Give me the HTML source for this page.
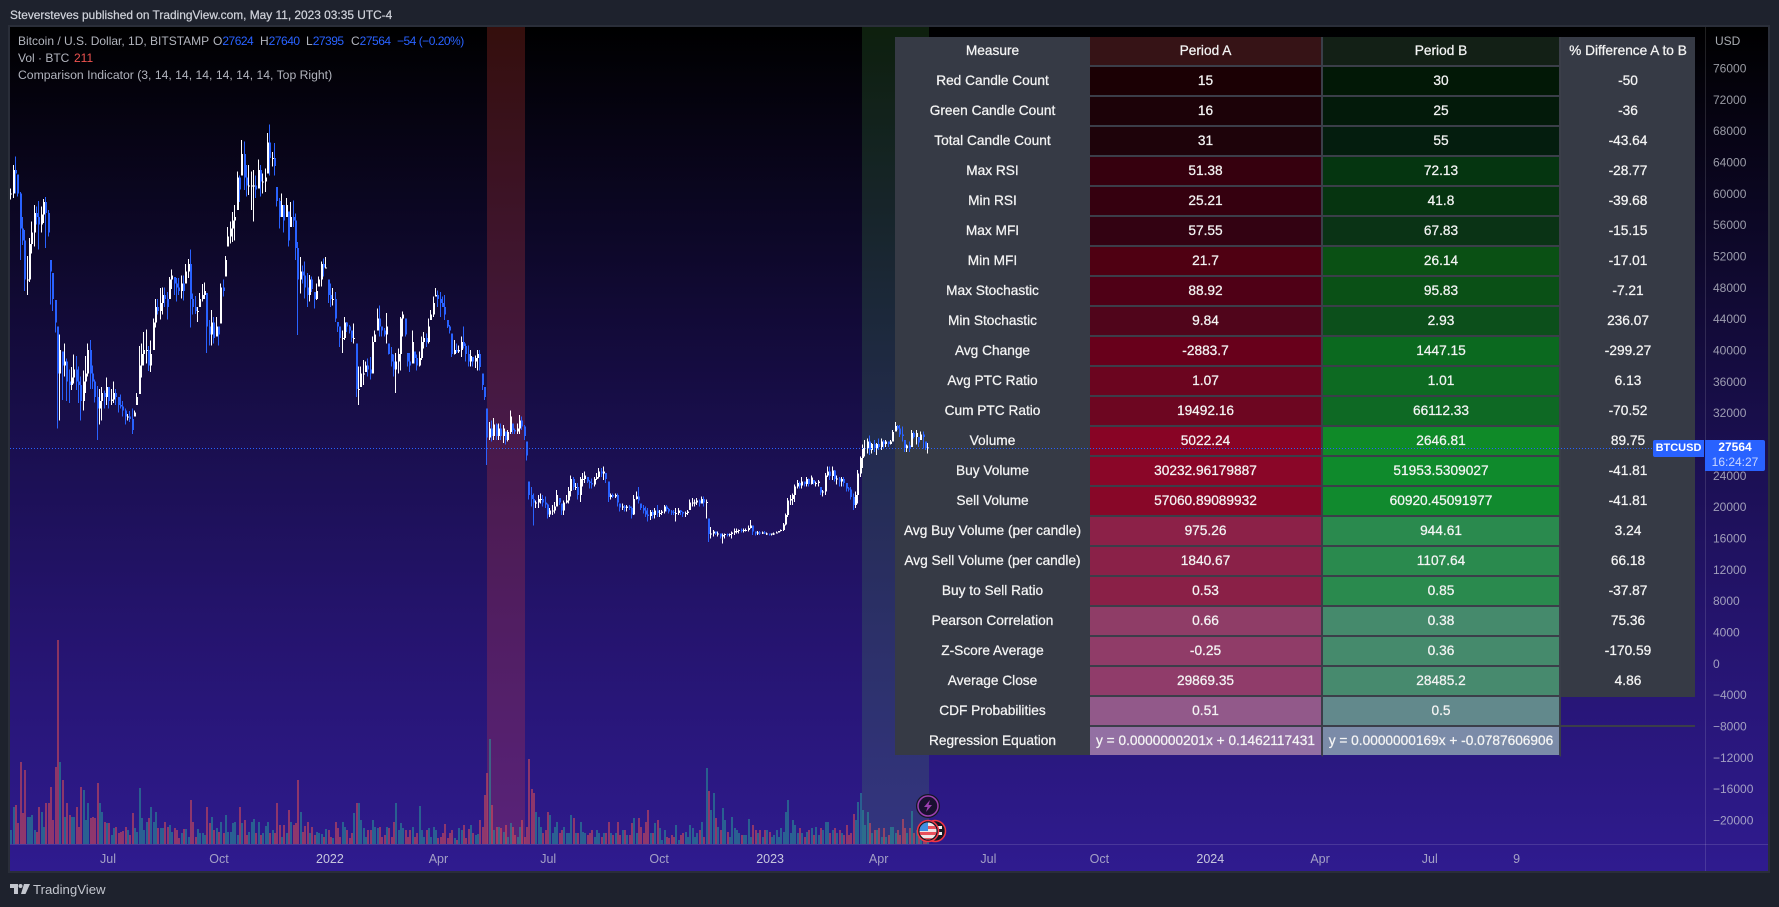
<!DOCTYPE html>
<html lang="en">
<head>
<meta charset="utf-8">
<title>BTCUSD Comparison Indicator</title>
<style>
html,body{margin:0;padding:0;background:#1e222d;}
#page{position:relative;width:1779px;height:907px;overflow:hidden;background:#1e222d;font-family:"Liberation Sans",sans-serif;}
#publish-line{position:absolute;left:10px;top:7px;font-size:11.9px;line-height:16px;color:#d1d4dc;white-space:nowrap;-webkit-text-stroke:.2px #d1d4dc;}
#chart-frame{position:absolute;left:8px;top:25px;width:1758px;height:844px;border:2px solid #2a2e39;background:linear-gradient(180deg,#000000 0%,#1a0f50 50%,#25146f 72%,#2f1b8f 100%);}
svg.layer{position:absolute;left:0;top:0;}
#measure-table{position:absolute;left:895px;top:37px;border-collapse:separate;border-spacing:0;table-layout:fixed;width:800px;font-size:13.7px;color:#f4f4f4;text-align:center;-webkit-text-stroke:.25px #f4f4f4;}
#measure-table td{height:27px;padding:0 0 1px 0;border-bottom:2px solid #3b3e49;white-space:nowrap;}
#measure-table td.m{background:#363a45;border-bottom-color:#363a45;width:195px;}
#measure-table td.a{width:231px;border-right:2px solid #3b3e49;}
#measure-table td.b{width:236px;border-right:2px solid #3b3e49;}
#measure-table td.d{background:#363a45;border-bottom-color:#363a45;width:134px;}
#measure-table td.e{background:transparent;border-bottom-color:transparent;width:134px;}
#measure-table tr:last-child td{background-clip:padding-box!important;}
.legend{position:absolute;left:18px;font-size:12px;line-height:17px;color:#b2b5be;white-space:nowrap;width:500px;height:17px;}
.legend span.p{position:absolute;top:0;}
.v{color:#2962ff;letter-spacing:-.5px;}
#tv-text{position:absolute;left:33px;top:881px;font-size:13.2px;line-height:17px;color:#c3c6ce;}
.price-tag{position:absolute;background:#2962ff;color:#fff;font-size:12px;text-align:center;}
</style>
</head>
<body>
<div id="page">
  <div id="publish-line">Steversteves published on TradingView.com, May 11, 2023 03:35 UTC-4</div>
  <div id="chart-frame"></div>
  <svg id="under" class="layer" width="1779" height="907"></svg>

  <table id="measure-table">
    <tr><td class="m">Measure</td><td class="a" style="background:#361316">Period A</td><td class="b" style="background:#132016">Period B</td><td class="d">% Difference A to B</td></tr>
    <tr><td class="m">Red Candle Count</td><td class="a" style="background:#1b0004">15</td><td class="b" style="background:#021806">30</td><td class="d">-50</td></tr>
    <tr><td class="m">Green Candle Count</td><td class="a" style="background:#1c0208">16</td><td class="b" style="background:#031a0a">25</td><td class="d">-36</td></tr>
    <tr><td class="m">Total Candle Count</td><td class="a" style="background:#1e030a">31</td><td class="b" style="background:#041d0e">55</td><td class="d">-43.64</td></tr>
    <tr><td class="m">Max RSI</td><td class="a" style="background:#36000e">51.38</td><td class="b" style="background:#053510">72.13</td><td class="d">-28.77</td></tr>
    <tr><td class="m">Min RSI</td><td class="a" style="background:#35000f">25.21</td><td class="b" style="background:#063410">41.8</td><td class="d">-39.68</td></tr>
    <tr><td class="m">Max MFI</td><td class="a" style="background:#330212">57.55</td><td class="b" style="background:#0a3315">67.83</td><td class="d">-15.15</td></tr>
    <tr><td class="m">Min MFI</td><td class="a" style="background:#4f0012">21.7</td><td class="b" style="background:#0a5014">26.14</td><td class="d">-17.01</td></tr>
    <tr><td class="m">Max Stochastic</td><td class="a" style="background:#4f0016">88.92</td><td class="b" style="background:#0a5016">95.83</td><td class="d">-7.21</td></tr>
    <tr><td class="m">Min Stochastic</td><td class="a" style="background:#50051b">9.84</td><td class="b" style="background:#0c4f1b">2.93</td><td class="d">236.07</td></tr>
    <tr><td class="m">Avg Change</td><td class="a" style="background:#68001b">-2883.7</td><td class="b" style="background:#0b691f">1447.15</td><td class="d">-299.27</td></tr>
    <tr><td class="m">Avg PTC Ratio</td><td class="a" style="background:#6b051f">1.07</td><td class="b" style="background:#0d6a22">1.01</td><td class="d">6.13</td></tr>
    <tr><td class="m">Cum PTC Ratio</td><td class="a" style="background:#6d0621">19492.16</td><td class="b" style="background:#0e6924">66112.33</td><td class="d">-70.52</td></tr>
    <tr><td class="m">Volume</td><td class="a" style="background:#880425">5022.24</td><td class="b" style="background:#0f8a28">2646.81</td><td class="d">89.75</td></tr>
    <tr><td class="m">Buy Volume</td><td class="a" style="background:#8a0628">30232.96179887</td><td class="b" style="background:#0f8a2c">51953.5309027</td><td class="d">-41.81</td></tr>
    <tr><td class="m">Sell Volume</td><td class="a" style="background:#880728">57060.89089932</td><td class="b" style="background:#118a2e">60920.45091977</td><td class="d">-41.81</td></tr>
    <tr><td class="m">Avg Buy Volume (per candle)</td><td class="a" style="background:#8c2148">975.26</td><td class="b" style="background:#2a8a4e">944.61</td><td class="d">3.24</td></tr>
    <tr><td class="m">Avg Sell Volume (per candle)</td><td class="a" style="background:#8a2148">1840.67</td><td class="b" style="background:#2a8a4e">1107.64</td><td class="d">66.18</td></tr>
    <tr><td class="m">Buy to Sell Ratio</td><td class="a" style="background:#8a2047">0.53</td><td class="b" style="background:#2a8a4e">0.85</td><td class="d">-37.87</td></tr>
    <tr><td class="m">Pearson Correlation</td><td class="a" style="background:#8f3d67">0.66</td><td class="b" style="background:#458a6c">0.38</td><td class="d">75.36</td></tr>
    <tr><td class="m">Z-Score Average</td><td class="a" style="background:#903c68">-0.25</td><td class="b" style="background:#458a6c">0.36</td><td class="d">-170.59</td></tr>
    <tr><td class="m">Average Close</td><td class="a" style="background:#903c6a">29869.35</td><td class="b" style="background:#478a6e">28485.2</td><td class="d">4.86</td></tr>
    <tr><td class="m">CDF Probabilities</td><td class="a" style="background:#92598a">0.51</td><td class="b" style="background:#62898c">0.5</td><td class="e" style="border-bottom-color:#3b3e49"></td></tr>
    <tr><td class="m" style="border-bottom-color:transparent">Regression Equation</td><td class="a" style="background:#9370a3;border-bottom-color:transparent">y = 0.0000000201x + 0.1462117431</td><td class="b" style="background:#7b8ba8;border-bottom-color:transparent">y = 0.0000000169x + -0.0787606906</td><td class="e"></td></tr>
  </table>

  <svg id="over" class="layer" width="1779" height="907"></svg>

  <div class="legend" style="top:33px">Bitcoin / U.S. Dollar, 1D, BITSTAMP<span class="p" style="left:195px">O<span class="v">27624</span></span><span class="p" style="left:242px">H<span class="v">27640</span></span><span class="p" style="left:288px">L<span class="v">27395</span></span><span class="p" style="left:333px">C<span class="v">27564</span></span><span class="p v" style="left:379px">−54 (−0.20%)</span></div>
  <div class="legend" style="top:50px">Vol · BTC<span class="p" style="left:56px;color:#ef5350">211</span></div>
  <div class="legend" style="top:67px;font-size:12.2px">Comparison Indicator (3, 14, 14, 14, 14, 14, 14, Top Right)</div>

  <div class="price-tag" style="left:1653px;top:440px;width:51px;height:17px;line-height:17px;font-size:11px;font-weight:bold;border-radius:2px 0 0 2px">BTCUSD</div>
  <div class="price-tag" style="left:1705px;top:440px;width:60px;height:31px;line-height:15px;border-radius:0 2px 2px 0"><b>27564</b><br><span style="color:#c9d6ff">16:24:27</span></div>

  <svg class="layer" style="left:10px;top:884px" width="20" height="11" viewBox="0 0 20 11"><path d="M0 0H8V10H4V4H0Z" fill="#c3c6ce"/><circle cx="10.5" cy="2" r="2" fill="#c3c6ce"/><path d="M14 0H20L15.5 10H11Z" fill="#c3c6ce"/></svg>
  <div id="tv-text">TradingView</div>
</div>

<script>
// Bars are sampled about every two days. Prices are in thousands of USD.
const highs = [
60.6,63.6,64.7,62.4,60.2,57.0,55.3,52.0,54.3,56.4,
58.5,58.3,59.0,58.3,59.3,59.5,57.9,51.5,49.8,46.4,
43.0,42.0,39.8,40.8,38.9,37.5,37.8,39.4,39.2,37.9,
36.6,37.4,39.2,40.8,41.3,38.0,36.2,35.4,35.0,35.3,
34.8,36.5,35.3,35.0,36.0,35.0,34.0,34.3,33.5,32.5,
31.8,32.2,32.5,32.3,34.5,40.5,40.8,42.3,42.6,40.5,
41.2,44.0,46.5,46.5,47.9,48.0,48.0,47.4,49.3,50.3,
49.3,49.2,49.2,49.5,49.5,51.0,51.6,52.8,47.2,46.9,
45.5,47.3,48.4,48.6,47.3,43.8,45.1,44.2,44.2,43,
48.5,49,52,55.7,56.4,57.6,58.5,62.8,62.3,66.8,
66.6,63.6,63.6,62.8,63,62.3,64.3,63.6,62.5,63.2,
67.7,68.8,65.3,66.4,60.8,59.4,60,58.5,59.4,57.7,
58.9,59.1,57.4,53.8,51.9,50.8,51.3,49.8,49.6,49.4,
47.4,48.5,49.4,51.3,51.7,51.9,49,48.5,47.9,47.4,
43.6,43,42.5,44.2,43.6,43.2,42.5,43.4,40.8,37.9,
37.9,38.7,38.5,38.9,39.1,41.7,42.5,45.3,45.7,43,
42.8,44.7,40.8,40.4,39.4,39.6,40.2,44.2,44.9,44,
39.6,39.6,42.5,39.8,39.4,39.8,41.7,42.3,42.1,44,
45.1,46.8,47.9,47.6,47.4,46.8,47,43.8,43.2,42.1,
41.3,40.8,40.6,
41.7,43,40.8,40.6,40,39.1,39.3,40,40,37,
35.3,32.5,30.8,31,31.3,30.6,30.6,30.6,30.4,29.6,
29.8,32.3,30.6,30,30.6,31.7,31.5,30.4,28.3,23.2,
22.5,21.7,20.8,21.5,21.7,21.5,21.3,20.4,19.8,20.2,
20.6,22.1,21.1,20.4,20.8,21.5,22.5,24,23.8,23,
23,23.8,24.3,24.5,23.8,23.4,23.6,23.8,24.3,24.9,
24.9,25.1,24.3,23.2,21.7,21.7,21.7,21.7,20.4,20.4,
20.2,20.2,20.2,20,21.5,21.9,22.5,20.4,20.2,20,
19.8,19.6,19.6,19.8,20.2,19.6,19.6,20.2,20.2,19.8,
19.6,19.6,19.8,19.8,19.6,19.4,19.4,19.6,20.9,21.1,
20.9,21.1,20.9,21.3,21.3,20.9,18.5,17.4,17,16.8,
16.8,16.6,16.6,16.6,16.6,16.6,16.8,17.2,17.2,17.1,
17.2,17.2,17.2,17.6,18.3,17.6,16.8,16.9,16.9,16.8,
16.9,16.7,16.6,16.6,16.7,16.8,16.9,17.1,17.9,19.1,
21.1,21.5,21.7,22.8,23.4,23.2,23.8,23.2,23.8,23.6,
24,23.4,23.2,23.4,22.5,22.1,24.3,25.1,25.1,25.1,
24.7,24,23.8,23.8,23.8,23,22.5,22.5,21.7,21.9,
24.7,26.4,27.9,28.5,28.7,29.1,28.1,28.5,28.1,28.7,
28.7,28.5,28.5,28.3,28.5,29.8,30.8,30.4,30.4,30.2,
28.5,27.9,28.3,29.8,29.6,29.8,28.9,29.6,29.6,28.3,28.1];

const lows = [
59.2,59.4,60.0,59.6,51.5,53.4,47.5,47.0,48.7,52.3,
53.2,56.0,52.8,55.0,56.2,53.0,54.5,45.8,45.0,42.2,
30.0,31.0,33.6,36.6,33.5,33.2,34.9,35.7,34.9,33.2,
31.0,32.3,34.5,36.6,35.0,35.0,33.3,28.5,30.5,31.0,
32.5,33,32.5,33,33.2,33,32,32.5,31.5,30.5,
31,30.8,29.3,31.5,33,34.4,36.5,38,38.3,37.3,
37.2,40,42.9,44.5,43.9,44.5,45.5,43.9,46.5,47.8,
47,46.2,47,46.6,46.3,48.5,49.2,42.9,44.5,44.6,
43.6,45.5,46.2,46.5,39.6,40.6,40.6,40.8,41.7,40.6,
43.4,46.8,49.4,53.2,53.6,53.8,54,57.9,58.9,62.3,
60.4,59.6,59.8,57.9,56.4,59.4,60.6,59.6,60,60.2,
62.5,62.3,63.4,62.3,58.3,55.5,57,55,57,53.2,
55.7,55.7,51.5,41.9,47.2,48.5,46.6,45.5,46.2,47.4,
45.3,46.4,48.1,48.1,49.4,50.4,46,45.5,45.7,43.6,
42.3,40.4,39.6,41.3,42.3,42.1,41,40.8,34,33,
35.3,35.5,37.2,36.6,36.2,37,41,42.5,41.7,41.7,
41.7,40.8,39.4,37.9,36.6,34.5,37,37.4,41.7,41.7,
37.9,37.2,38.3,38.3,37.4,37.9,38.7,40.2,40.4,40.8,
43.8,44.2,46.8,45.5,44.2,45.5,43.8,42.8,42.1,39.1,
39.4,39.6,39.6,
39.1,40.2,38.5,37.9,37.9,37.9,37.7,37.4,37.4,34.9,
33.6,25.3,28.5,28.3,28.5,28.5,28.5,28.5,28.1,27.9,
28.3,29.3,29.3,29.3,29.3,29.3,29.8,28.5,25.9,20.9,
20,17.6,19.8,19.8,20.4,20,19.8,18.5,18.7,18.9,
19.1,20,20.2,18.9,18.9,20.4,20.4,21.3,22.1,22.1,
20.9,20.6,22.6,23,23,22.3,22.3,22.6,23.4,23.6,
23.8,23.4,23,20.6,20.9,21.1,21.1,20,19.4,19.6,
19.4,19.4,19.6,18.5,18.9,20.9,20.4,19.6,19.1,18.7,
18.1,18.3,18.5,18.5,18.7,18.7,18.9,19.1,19.4,19.1,
18.9,18.9,18.1,18.9,18.9,18.7,18.7,18.9,19.6,20,
20,20.2,20,20.4,20,18.5,15.5,15.9,16.2,16.4,
16.2,15.9,15.3,15.9,16.2,16.2,15.9,16.4,16.6,16.6,
16.7,16.7,16.8,16.8,17.2,16.4,16.3,16.4,16.4,16.5,
16.5,16.4,16.3,16.3,16.4,16.6,16.7,16.8,16.9,17.6,
18.7,20.2,20.2,20.6,22.3,22.3,22.3,22.6,22.6,22.6,
22.8,22.8,22.6,22.6,21.5,21.3,21.5,23.8,23.4,23.4,
23.2,22.8,22.6,22.6,22.6,21.9,21.9,20.9,19.6,19.8,
20.4,23.8,24.9,26.4,26.8,26.6,26.8,27,26.6,27.2,
27.2,27.4,27.6,27.6,27.9,28.3,29.6,29.8,28.9,28.3,
27,27,27,27.6,28.7,27.9,27.6,28.5,27.4,27.2,26.8];

const closes = [
60,63,62.5,60,55.5,54,49,49,53.5,55,
57.5,57,56,57.3,58.9,57.5,55,50,46.5,43.5,
37,40,38,38.5,36,35.5,36.5,37.5,36,35.5,
33.5,36,37,40,37,36,34,32.5,33.5,34.5,
34,35.3,33.5,33.7,34.5,34,33,32.8,32.3,31.5,
31.5,31.2,29.8,32,34,38,39.5,40,40,38,
39.5,43.5,45.5,45,46,47,46.5,45.5,49,49.5,
48.5,48,47.5,48.5,47.5,50,51,46.5,45.5,45,
45,46.5,47,47.5,43,42,43.5,41.5,43,42,
48,47.5,51.5,54.5,55.5,56.5,57,62,60.5,65,
62,61,61,61,61,60.5,63,61.5,61.5,62,
66.5,64.5,64.5,63.5,59,57,58.5,56.5,58.5,54,
57,56.5,53,49,50,49.5,48,47,49,47.8,
46.5,47.5,49,51,50.5,50.5,47,46.5,46.5,44,
43,41.5,41.5,43.5,43,42.5,41.5,41.5,35,35,
37,37,38,37.5,37,41,42,44,43,42.5,
42,43,39.5,38.5,37.5,38.5,39.5,44,44.5,42,
38.5,38,41,39,38,39,41,41.5,41,43,
44.5,46,47,46.5,46,45.5,44.5,43,42.5,39.5,
40,39.8,40,
41,40.5,39.5,38.5,39.2,38.5,39,39.5,37.8,35.5,
34,28.8,30,29,30.5,29,30,29,30,28.5,
29.5,31.5,29.8,29.6,30,31,30.2,29,26.5,21.5,
21,20.5,20.5,21,21,20.5,20.3,19,19.5,19.5,
20,21.5,20.5,19.5,20.5,20.8,22,23.5,22.5,22.5,
21.5,23.5,23.5,24,23.2,23,22.8,23.5,23.8,24.5,
24.2,24.5,23.5,21.2,21.5,21.3,21.5,20.5,19.9,20,
19.8,20,19.8,19,21,21.3,20.8,19.8,19.5,19,
18.8,19.3,18.9,19.5,19.2,19.2,19.4,20,19.7,19.4,
19.3,19.2,19.2,19.5,19.3,19.1,19.2,19.4,20.5,20.5,
20.5,20.8,20.4,21,20.5,20.6,16.5,16.6,16.8,16.6,
16.6,16.2,16.4,16.5,16.4,16.5,16.7,16.9,16.9,17,
16.9,17,17,17.3,17.6,16.8,16.6,16.7,16.6,16.7,
16.6,16.6,16.5,16.6,16.6,16.7,16.9,17,17.7,18.9,
20.8,21,21.5,22.6,23,22.7,23.2,22.9,23.5,22.9,
23.7,23,23,23.2,21.8,21.9,24,24.5,23.9,24.6,
23.5,23.6,23.2,23.5,23,22.3,22.2,21.2,20.2,21.5,
24.2,26.2,27.5,27.5,28.3,27.2,28,27.5,28,27.6,
28.3,28,28.3,28,28.3,29.5,30.3,30,29.2,29,
27.5,27.8,27.5,29.4,28.9,29.4,28.2,29.2,28.9,27.5,27.56];

// Volume, in hundreds of BTC.
const volumes = [
14,37,39,21,82,31,74,27,27,29,
14,12,37,32,17,41,41,57,24,77,
204,82,64,27,41,29,27,27,37,17,
57,54,24,41,26,27,26,61,41,32,
22,21,21,9,16,17,11,12,13,17,
14,9,31,16,12,56,26,14,22,26,
37,22,32,16,16,16,22,17,19,12,
16,14,6,11,15,15,7,44,22,7,
15,11,11,9,37,21,27,14,16,12,
22,11,29,12,12,21,22,9,37,21,
24,9,12,22,25,11,22,9,11,18,
22,11,14,11,41,19,7,19,11,34,
22,19,21,64,32,12,18,22,11,17,
9,12,11,10,7,15,14,7,6,22,
16,7,22,17,14,6,11,31,41,41,
24,16,7,14,14,24,17,16,17,7,
9,17,16,7,22,41,14,21,16,14,
7,14,17,7,11,38,14,7,14,16,
7,17,14,6,7,11,20,6,11,14,
6,4,16,14,19,6,15,19,11,9,
10,24,17,49,71,105,39,14,17,17,
16,12,19,7,21,17,9,7,17,24,
7,17,85,55,51,32,27,17,11,14,
32,29,11,17,22,11,14,17,11,11,
29,26,11,11,22,12,11,9,11,14,
7,14,11,7,11,11,22,11,9,11,
22,9,14,14,9,9,21,26,11,26,
17,11,22,34,11,11,21,24,16,4,
14,7,6,9,7,19,4,9,11,12,
7,19,16,7,11,14,22,7,76,53,
34,51,26,17,14,36,24,12,7,27,
16,14,11,9,9,9,25,7,19,14,
11,14,7,14,14,12,7,9,14,7,
16,12,32,44,11,24,19,11,16,11,
7,12,14,16,9,17,9,16,14,22,
22,11,14,16,11,14,11,9,19,9,
11,30,24,42,51,34,19,32,21,11,
14,14,16,7,16,7,9,17,17,11,
14,9,25,16,11,16,33,11,14,7,
11,7,7,7];

const lastPrice = 27.564;
const priceTicks = [76000,72000,68000,64000,60000,56000,52000,48000,44000,40000,36000,32000,28000,24000,20000,16000,12000,8000,4000,0,-4000,-8000,-12000,-16000,-20000];
const timeTickLabels = ["Jul","Oct","2022","Apr","Jul","Oct","2023","Apr","Jul","Oct","2024","Apr","Jul","9"];
const timeTickDays = [81,173,265,355,446,538,630,720,811,903,995,1086,1177,1249];

const NS = "http://www.w3.org/2000/svg";
const under = document.getElementById("under");
const over = document.getElementById("over");

function priceY(k){ return 68 + (76 - k) * 31.33 / 4; }
function barX(i){ return 10.33 + i * 2.333; }
function dayX(d){ return 10.33 + d * 1.206; }
function volY(v){ return 844 - v; }

function make(parent, tag, props){
  const el = document.createElementNS(NS, tag);
  for (const k in props) el.setAttribute(k, props[k]);
  parent.appendChild(el);
  return el;
}

// Highlighted period zones
const zoneA = make(under, "rect", {x:487, y:27, width:38, height:817, fill:"rgba(242,70,60,.22)"});


const zoneB = make(under, "rect", {x:862, y:27, width:67, height:817, fill:"rgba(76,175,80,.18)"});



// Volume bars
for (let i = 0; i < volumes.length; i++) {
  const up = i === 0 || closes[i] >= closes[i-1];
  const bar = make(under, "rect", {
    x: Math.round(barX(i)), y: volY(volumes[i]), width: 2, height: 844 - volY(volumes[i]),
    fill: up ? "rgba(38,166,154,.5)" : "rgba(239,83,80,.5)", "shape-rendering": "crispEdges"
  });
  
  
}

// Axis lines
const xAxisLine = make(under, "rect", {x:10, y:844, width:1758, height:1, fill:"rgba(255,255,255,.13)"});


const yAxisLine = make(under, "rect", {x:1705, y:27, width:1, height:844, fill:"rgba(255,255,255,.13)"});



// Candles, drawn above the table
for (let i = 0; i < closes.length; i++) {
  const open = Math.min(highs[i], Math.max(lows[i], i === 0 ? closes[0] : closes[i-1]));
  const up = closes[i] >= (i === 0 ? closes[0] : closes[i-1]);
  const color = up ? "#ffffff" : "#2962ff";
  const x = Math.round(barX(i));
  const wick = make(over, "rect", {
    x: x, y: priceY(highs[i]), width: 1, height: priceY(lows[i]) - priceY(highs[i]),
    fill: color, "shape-rendering": "crispEdges"
  });
  
  
  const top = Math.max(open, closes[i]);
  const bottom = Math.min(open, closes[i]);
  const body = make(over, "rect", {
    x: x, y: priceY(top), width: 2, height: Math.max(1, priceY(bottom) - priceY(top)),
    fill: color, "shape-rendering": "crispEdges"
  });
  
  
}

// Last price line
const lastLine = make(over, "line", {
  x1: 10, x2: 1653, y1: Math.round(priceY(lastPrice)) + 1.5, y2: Math.round(priceY(lastPrice)) + 1.5,
  stroke: "#2962ff", "stroke-width": 1, "stroke-dasharray": "1 2"
});



// Price axis labels
priceTicks.forEach(function (t) {
  const label = make(over, "text", {
    x: 1713, y: priceY(t / 1000) + 4.5, fill: "rgba(209,212,220,.72)",
    "font-family": "Liberation Sans, sans-serif", "font-size": 12
  });
  label.textContent = String(t).replace("-", "\u2212");
  
  
});
const usd = make(over, "text", {
  x: 1715, y: 45, fill: "rgba(209,212,220,.8)",
  "font-family": "Liberation Sans, sans-serif", "font-size": 12
});
usd.textContent = "USD";



// Time axis labels
timeTickLabels.forEach(function (t, i) {
  const isYear = t.length === 4 && t[0] === "2";
  const label = make(over, "text", {
    x: dayX(timeTickDays[i]), y: 863, fill: isYear ? "rgba(225,228,235,.85)" : "rgba(209,212,220,.72)", "text-anchor": "middle",
    "font-family": "Liberation Sans, sans-serif", "font-size": 12.5
  });
  label.textContent = t;
  
  
});

// Event markers
const bolt = make(over, "g", {});


make(bolt, "circle", {cx:928, cy:806, r:12, fill:"#131722"});
make(bolt, "circle", {cx:928, cy:806, r:10, fill:"#1a1030", stroke:"#9c3fb0", "stroke-width":1.5});
make(bolt, "polygon", {points:"930,800 924,807 927.5,807 926,812 932,805 928.5,805", fill:"#9c3fb0"});

const defs = make(over, "defs", {});
const clip = make(defs, "clipPath", {id:"flag-clip"});
make(clip, "circle", {cx:928, cy:831, r:8.5});

const flagBack = make(over, "g", {});


make(flagBack, "circle", {cx:935, cy:831, r:10.5, fill:"#131722", stroke:"#f23645", "stroke-width":1.5});
make(flagBack, "rect", {x:936, y:826, width:6, height:3, fill:"#f0f0f0"});
make(flagBack, "rect", {x:936, y:832, width:6, height:3, fill:"#f0f0f0"});

const flag = make(over, "g", {});


make(flag, "circle", {cx:928, cy:831, r:10.5, fill:"#131722", stroke:"#f23645", "stroke-width":1.5});
const flagArt = make(flag, "g", {"clip-path":"url(#flag-clip)"});
make(flagArt, "rect", {x:919, y:822, width:18, height:18, fill:"#f0e6e6"});
make(flagArt, "rect", {x:919, y:826, width:18, height:3, fill:"#e8505b"});
make(flagArt, "rect", {x:919, y:832, width:18, height:3, fill:"#e8505b"});
make(flagArt, "rect", {x:919, y:838, width:18, height:3, fill:"#e8505b"});
make(flagArt, "rect", {x:919, y:822, width:9, height:9, fill:"#3f8ee0"});
</script>
</body>
</html>
